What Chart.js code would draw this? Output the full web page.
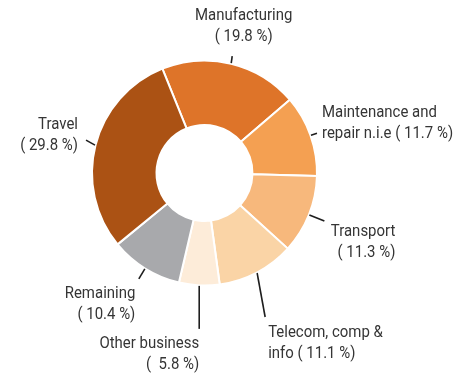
<!DOCTYPE html>
<html>
<head>
<meta charset="utf-8">
<script src="https://cdn.jsdelivr.net/npm/chart.js@4/dist/chart.umd.min.js"></script>
<style>
  html, body { margin: 0; padding: 0; background: #fff; }
  #wrap { width: 467px; height: 379px; position: relative; }
</style>
</head>
<body>
<div id="wrap"><canvas id="sectorChart"></canvas></div>
<script>
  // data
  const categoryLines = [
    ["Manufacturing"],
    ["Maintenance and", "repair n.i.e"],
    ["Transport"],
    ["Telecom, comp &", "info"],
    ["Other business"],
    ["Remaining"],
    ["Travel"]
  ];
  const shares = [19.8, 11.7, 11.3, 11.1, 5.8, 10.4, 29.8];
  const sliceColors = ["#de7429", "#f4a052", "#f7b87c", "#fad4a6", "#fdecd9", "#a8a9ac", "#ab5214"];

  // label layout: leader vector from the rim, text offset from leader end, alignment
  const leaderDx = [1, 6, 15, 8, 0, -6, -9];
  const leaderDy = [-7, -2, 6, 44, 43, 10, -5];
  const textDx = [11.5, 5, 71, 3, 0, -3.5, -8];
  const textDy = [-40, -20, 11, 16, 15, 15, -15];
  const textAlign = ["center", "left", "right", "left", "right", "right", "right"];

  const fontPx = 17;
  const squeeze = 0.88;
  const lineGap = 20.5;

  function labelText(i) {
    const pct = "( " + shares[i].toFixed(1).padStart(4, " ") + " %)";
    const lines = categoryLines[i].slice();
    if (lines.length > 1) {
      lines[lines.length - 1] += " " + pct;
    } else {
      lines.push(pct);
    }
    return lines;
  }

  const leaderLabels = {
    id: "leaderLabels",
    afterDatasetsDraw(chart) {
      const ctx = chart.ctx;
      const arcs = chart.getDatasetMeta(0).data;
      ctx.save();
      ctx.strokeStyle = "#1e1e1e";
      ctx.lineWidth = 1.6;
      ctx.fillStyle = "#353535";
      ctx.font = fontPx + "px Roboto, 'Liberation Sans', sans-serif";
      ctx.textBaseline = "middle";
      arcs.forEach((arc, i) => {
        const mid = (arc.startAngle + arc.endAngle) / 2;
        const r0 = arc.outerRadius + 0.5;
        const sx = arc.x + Math.cos(mid) * r0;
        const sy = arc.y + Math.sin(mid) * r0;
        const ex = sx + leaderDx[i];
        const ey = sy + leaderDy[i];
        ctx.beginPath();
        ctx.moveTo(sx, sy);
        ctx.lineTo(ex, ey);
        ctx.stroke();
        ctx.textAlign = textAlign[i];
        labelText(i).forEach((line, k) => {
          ctx.save();
          ctx.translate(ex + textDx[i], ey + textDy[i] + k * lineGap);
          ctx.scale(squeeze, 1);
          ctx.fillText(line, 0, 0);
          ctx.restore();
        });
      });
      ctx.restore();
    }
  };

  new Chart(document.getElementById("sectorChart"), {
    type: "doughnut",
    data: {
      labels: categoryLines.map(l => l.join(" ")),
      datasets: [{
        data: shares,
        backgroundColor: sliceColors,
        borderColor: "#ffffff",
        borderWidth: 2
      }]
    },
    options: {
      responsive: true,
      maintainAspectRatio: false,
      animation: false,
      rotation: -22,
      cutout: 48,
      layout: { padding: { left: 91, right: 149, top: 59.5, bottom: 92.5 } },
      plugins: {
        legend: { display: false },
        tooltip: { enabled: false }
      }
    },
    plugins: [leaderLabels]
  });
</script>
</body>
</html>
